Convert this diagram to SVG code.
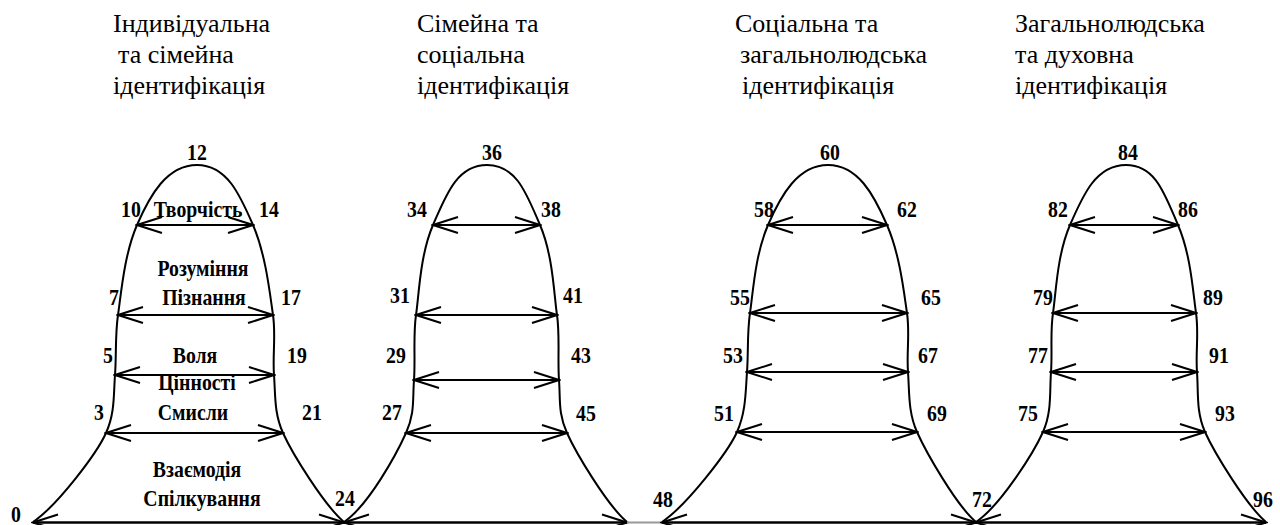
<svg xmlns="http://www.w3.org/2000/svg" width="1280" height="525" viewBox="0 0 1280 525">
<style>
.curve{fill:none;stroke:#000;stroke-width:2}
.arr{stroke:#000;stroke-width:2;fill:none;marker-start:url(#ah);marker-end:url(#ah)}
.base{stroke:#000;stroke-width:2.5;fill:none;marker-start:url(#ah);marker-end:url(#ah)}
.h{font-family:"Liberation Serif",serif;font-size:26px}
.n{font-family:"Liberation Serif",serif;font-size:23px;font-weight:bold;text-anchor:middle}
</style>
<defs>
<marker id="ah" viewBox="-28 -11 30 22" refX="0" refY="0" markerWidth="30" markerHeight="22" markerUnits="userSpaceOnUse" orient="auto-start-reverse">
<path d="M-25,-8 L0,0 L-25,8" fill="none" stroke="#000" stroke-width="2"/>
</marker>
</defs>
<rect x="0" y="0" width="1280" height="525" fill="#fff"/>

<g id="headers">
<g id="header-1">
<text class="h" x="113" y="32">Індивідуальна</text>
<text class="h" x="118" y="63">та сімейна</text>
<text class="h" x="113" y="94">ідентифікація</text>
</g>
<g id="header-2">
<text class="h" x="417" y="32">Сімейна та</text>
<text class="h" x="417" y="63">соціальна</text>
<text class="h" x="417" y="94">ідентифікація</text>
</g>
<g id="header-3">
<text class="h" x="735" y="32">Соціальна та</text>
<text class="h" x="740" y="63">загальнолюдська</text>
<text class="h" x="742" y="94">ідентифікація</text>
</g>
<g id="header-4">
<text class="h" x="1015" y="32">Загальнолюдська</text>
<text class="h" x="1015" y="63">та духовна</text>
<text class="h" x="1015" y="94">ідентифікація</text>
</g>
</g>

<g id="bell-1">
<path class="curve" d="M33,522 C58,505 97,453 106,433 S113.5,395 115,375 S115,335 118,315 S124,255 137,225 S167,165 197,165 S240,195 253,225 S270,295 273,315 S272.5,355 274,375 S274,413 283,433 S324,505 344,522"/>
<text class="n" transform="translate(197,160) scale(0.86,1)">12</text>
<text class="n" transform="translate(131,217) scale(0.86,1)">10</text>
<text class="n" transform="translate(269,217) scale(0.86,1)">14</text>
<text class="n" transform="translate(114,305) scale(0.86,1)">7</text>
<text class="n" transform="translate(291,305) scale(0.86,1)">17</text>
<text class="n" transform="translate(108,363) scale(0.86,1)">5</text>
<text class="n" transform="translate(297,363) scale(0.86,1)">19</text>
<text class="n" transform="translate(99,420) scale(0.86,1)">3</text>
<text class="n" transform="translate(312,420) scale(0.86,1)">21</text>
<text class="n" transform="translate(16,522) scale(0.86,1)">0</text>
<text class="n" transform="translate(345,506) scale(0.86,1)">24</text>
<text class="n" transform="translate(198,217) scale(0.86,1)">Творчість</text>
<text class="n" transform="translate(203,276) scale(0.86,1)">Розуміння</text>
<text class="n" transform="translate(204,305) scale(0.86,1)">Пізнання</text>
<text class="n" transform="translate(195,363) scale(0.86,1)">Воля</text>
<text class="n" transform="translate(197,390) scale(0.86,1)">Цінності</text>
<text class="n" transform="translate(193,420) scale(0.86,1)">Смисли</text>
<text class="n" transform="translate(197,477) scale(0.86,1)">Взаємодія</text>
<text class="n" transform="translate(202,506) scale(0.86,1)">Спілкування</text>
</g>

<g id="bell-2">
<path class="curve" d="M344,522 C369,505 397,453 406,433 S412.5,400 414,380 S413,335 416,315 S420,255 433,225 S457,165 487,165 S527,195 540,225 S554,295 557,315 S557.5,360 559,380 S558,413 567,433 S607,505 627,522"/>
<text class="n" transform="translate(492,160) scale(0.86,1)">36</text>
<text class="n" transform="translate(417,217) scale(0.86,1)">34</text>
<text class="n" transform="translate(551,217) scale(0.86,1)">38</text>
<text class="n" transform="translate(400,303) scale(0.86,1)">31</text>
<text class="n" transform="translate(573,303) scale(0.86,1)">41</text>
<text class="n" transform="translate(396,363) scale(0.86,1)">29</text>
<text class="n" transform="translate(581,363) scale(0.86,1)">43</text>
<text class="n" transform="translate(392,420) scale(0.86,1)">27</text>
<text class="n" transform="translate(586,421) scale(0.86,1)">45</text>
<text class="n" transform="translate(663,507) scale(0.86,1)">48</text>
</g>

<g id="bell-3">
<path class="curve" d="M662,522 C687,505 728,452 737,432 S745.5,392 747,372 S747,333 750,313 S755,255 768,225 S798,165 828,165 S874,195 887,225 S904,293 907,313 S906.5,352 908,372 S908,412 917,432 S956,505 976,522"/>
<text class="n" transform="translate(830,160) scale(0.86,1)">60</text>
<text class="n" transform="translate(764,217) scale(0.86,1)">58</text>
<text class="n" transform="translate(907,217) scale(0.86,1)">62</text>
<text class="n" transform="translate(740,305) scale(0.86,1)">55</text>
<text class="n" transform="translate(931,305) scale(0.86,1)">65</text>
<text class="n" transform="translate(733,363) scale(0.86,1)">53</text>
<text class="n" transform="translate(928,363) scale(0.86,1)">67</text>
<text class="n" transform="translate(724,421) scale(0.86,1)">51</text>
<text class="n" transform="translate(937,421) scale(0.86,1)">69</text>
<text class="n" transform="translate(982,507) scale(0.86,1)">72</text>
</g>

<g id="bell-4">
<path class="curve" d="M976,522 C1001,505 1034,452 1043,432 S1049.5,392 1051,372 S1050,333 1053,313 S1057,255 1070,225 S1096,165 1126,165 S1165,195 1178,225 S1193,293 1196,313 S1195.5,352 1197,372 S1196,412 1205,432 S1246,505 1266,522"/>
<text class="n" transform="translate(1128,160) scale(0.86,1)">84</text>
<text class="n" transform="translate(1058,217) scale(0.86,1)">82</text>
<text class="n" transform="translate(1188,217) scale(0.86,1)">86</text>
<text class="n" transform="translate(1043,305) scale(0.86,1)">79</text>
<text class="n" transform="translate(1213,305) scale(0.86,1)">89</text>
<text class="n" transform="translate(1038,363) scale(0.86,1)">77</text>
<text class="n" transform="translate(1219,363) scale(0.86,1)">91</text>
<text class="n" transform="translate(1028,421) scale(0.86,1)">75</text>
<text class="n" transform="translate(1225,421) scale(0.86,1)">93</text>
<text class="n" transform="translate(1263,507) scale(0.86,1)">96</text>
</g>

<g id="connectors">
<line class="arr" x1="137" y1="225" x2="253" y2="225"/>
<line class="arr" x1="118" y1="315" x2="273" y2="315"/>
<line class="arr" x1="115" y1="375" x2="274" y2="375"/>
<line class="arr" x1="106" y1="433" x2="283" y2="433"/>
<line class="arr" x1="433" y1="225" x2="540" y2="225"/>
<line class="arr" x1="416" y1="315" x2="557" y2="315"/>
<line class="arr" x1="414" y1="380" x2="559" y2="380"/>
<line class="arr" x1="406" y1="433" x2="567" y2="433"/>
<line class="arr" x1="768" y1="225" x2="887" y2="225"/>
<line class="arr" x1="750" y1="313" x2="907" y2="313"/>
<line class="arr" x1="747" y1="372" x2="908" y2="372"/>
<line class="arr" x1="737" y1="432" x2="917" y2="432"/>
<line class="arr" x1="1070" y1="225" x2="1178" y2="225"/>
<line class="arr" x1="1053" y1="313" x2="1196" y2="313"/>
<line class="arr" x1="1051" y1="372" x2="1197" y2="372"/>
<line class="arr" x1="1043" y1="432" x2="1205" y2="432"/>
<line class="base" x1="33" y1="522.5" x2="344" y2="522.5"/>
<line class="base" x1="344" y1="522.5" x2="627" y2="522.5"/>
<line x1="627" y1="522.5" x2="662" y2="522.5" stroke="#999" stroke-width="2"/>
<line class="base" x1="662" y1="522.5" x2="976" y2="522.5"/>
<line class="base" x1="976" y1="522.5" x2="1266" y2="522.5"/>
</g>
</svg>
